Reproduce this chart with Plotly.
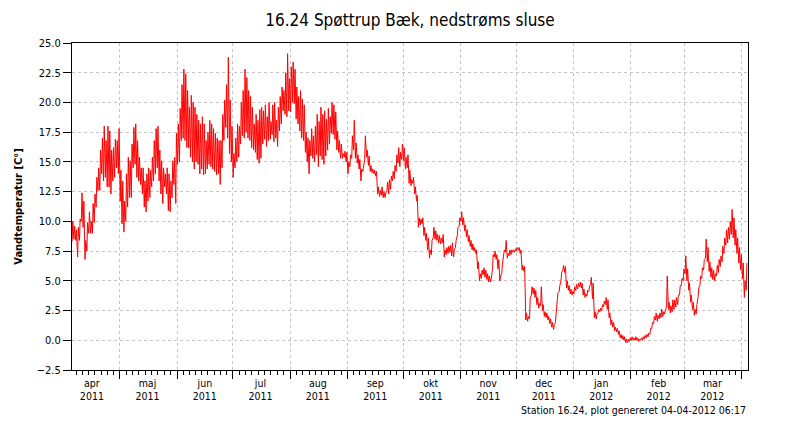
import pandas as pd
import plotly.graph_objects as go

# ---------------- data ----------------
first_day = "2011-04-05"
# daily maximum water temperature, one value per day from 2011-04-05
daily_max = [
    10.0, 9.6, 9.3, 9.5, 10.2, 12.4, 11.7, 8.4, 9.9, 10.8,
    10.0, 11.5, 12.3, 13.7, 14.5, 16.0, 17.0, 18.0, 16.8, 18.0,
    17.6, 16.0, 16.2, 16.9, 16.8, 17.8, 14.3, 13.4, 11.7, 14.0,
    15.4, 15.1, 16.5, 17.9, 18.2, 16.8, 15.4, 14.5, 14.5, 13.4,
    14.0, 14.5, 14.3, 15.4, 16.8, 17.8, 18.0, 16.0, 15.1, 14.5,
    14.0, 14.5, 14.0, 13.4, 15.1, 15.4, 17.4, 18.2, 19.5, 21.5,
    22.8, 22.4, 21.0, 19.6, 20.6, 20.0, 19.6, 19.0, 18.5, 18.2,
    18.8, 18.2, 16.8, 17.5, 18.5, 18.2, 17.8, 17.4, 17.0, 16.8,
    16.8, 19.0, 20.2, 21.5, 23.8, 20.2, 18.0, 15.7, 17.0, 18.2,
    18.0, 20.0, 21.0, 22.8, 22.1, 21.0, 20.5, 19.6, 18.2, 19.0,
    18.5, 19.4, 19.6, 19.3, 19.8, 18.8, 20.0, 18.4, 19.8, 20.0,
    18.5, 19.6, 20.5, 21.3, 21.0, 22.5, 24.1, 22.0, 23.0, 23.4,
    22.8, 21.3, 20.5, 21.0, 20.3, 19.8, 17.5, 17.0, 16.8, 17.8,
    17.2, 18.0, 19.0, 18.4, 19.6, 19.0, 19.3, 18.6, 19.5, 18.8,
    20.0, 19.8, 19.2, 17.6, 16.8, 16.5, 15.7, 15.9, 15.8, 15.0,
    15.6, 17.2, 18.5, 16.6, 15.6, 15.2, 14.4, 14.8, 17.2, 16.0,
    15.5, 14.7, 14.4, 14.3, 14.2, 12.9, 12.6, 12.9, 12.5, 12.4,
    13.3, 13.5, 13.8, 14.2, 14.7, 15.6, 16.2, 15.8, 16.5, 16.2,
    15.4, 15.6, 14.3, 13.5, 13.7, 12.9, 12.2, 10.3, 10.2, 10.3,
    9.5, 9.0, 8.6, 7.6, 8.4, 9.5, 9.2, 8.9, 8.8, 8.6,
    8.9, 7.6, 7.8, 7.9, 8.0, 8.2, 7.6, 8.4, 9.5, 10.3,
    10.8, 10.3, 9.7, 9.3, 8.8, 8.4, 8.1, 7.8, 7.6, 6.6,
    5.6, 5.9, 6.1, 5.9, 5.6, 5.4, 5.2, 7.2, 7.5, 7.2,
    6.8, 5.4, 6.4, 7.6, 8.4, 7.3, 7.6, 7.6, 7.6, 7.7,
    7.8, 7.8, 7.6, 6.3, 6.2, 2.3, 2.0, 3.5, 4.5, 4.4,
    4.2, 3.6, 3.1, 4.5, 3.0, 2.4, 2.3, 2.0, 1.8, 1.5,
    1.3, 2.6, 4.0, 4.6, 5.7, 6.3, 6.2, 5.0, 4.6, 4.3,
    4.1, 4.5, 4.7, 4.8, 4.9, 4.8, 4.3, 3.9, 4.2, 4.5,
    5.3, 4.8, 2.4, 2.2, 2.6, 2.7, 3.0, 3.3, 3.6, 3.4,
    2.3, 1.7, 1.5, 1.1, 1.0, 0.8, 0.5, 0.4, 0.3, 0.1,
    0.1, 0.2, 0.3, 0.2, 0.3, 0.2, 0.1, 0.2, 0.3, 0.4,
    0.5, 0.6, 1.0, 1.5, 2.0, 2.3, 2.1, 2.3, 2.6, 2.4,
    2.6, 5.4, 3.2, 2.9, 3.4, 3.4, 3.6, 3.8, 4.6, 5.2,
    6.0, 7.1, 6.0, 4.8, 3.8, 3.2, 2.6, 3.0, 4.4, 5.4,
    6.1, 6.8, 8.5, 7.8, 6.6, 6.1, 5.9, 5.6, 6.3, 6.8,
    7.1, 7.9, 8.6, 9.3, 9.5, 10.0, 11.0, 10.3, 9.3, 8.6,
    7.8, 7.2, 6.5, 5.0, 6.5,
]
# daily minimum water temperature, one value per day from 2011-04-05
daily_min = [
    8.3, 8.5, 8.4, 7.0, 8.4, 10.0, 9.5, 6.8, 7.5, 9.0,
    9.0, 9.0, 9.9, 11.2, 12.6, 12.6, 14.0, 13.4, 13.7, 12.9,
    12.9, 12.3, 13.4, 13.7, 14.5, 14.0, 11.7, 9.8, 9.1, 10.0,
    11.2, 12.0, 12.0, 14.5, 14.8, 13.7, 13.4, 13.1, 12.3, 11.2,
    10.8, 11.7, 12.0, 12.9, 13.4, 14.0, 14.5, 13.4, 12.3, 11.5,
    12.9, 12.3, 10.9, 10.8, 12.0, 13.1, 11.5, 14.8, 15.0, 16.8,
    17.0, 16.8, 16.2, 16.2, 15.4, 15.0, 14.4, 15.0, 14.8, 14.0,
    14.4, 13.9, 14.0, 14.4, 14.8, 14.6, 14.4, 14.2, 13.9, 14.0,
    13.1, 14.5, 16.8, 17.9, 17.0, 15.7, 15.0, 13.7, 14.5, 15.0,
    15.4, 16.5, 17.2, 17.0, 17.5, 17.0, 16.8, 16.2, 16.0, 15.8,
    15.2, 14.9, 15.3, 16.5, 16.9, 16.3, 16.8, 16.9, 17.3, 16.7,
    17.0, 16.3, 17.6, 18.2, 19.3, 19.0, 18.8, 19.3, 19.2, 20.0,
    19.9, 18.6, 18.2, 17.6, 17.0, 16.8, 15.8, 15.0, 14.0, 15.5,
    15.3, 15.0, 15.6, 14.6, 15.5, 15.2, 14.8, 15.5, 16.0, 16.5,
    17.4, 17.3, 16.9, 16.0, 15.8, 15.3, 15.3, 15.4, 15.0, 14.0,
    14.6, 15.3, 16.0, 15.3, 14.9, 14.4, 13.4, 14.2, 15.2, 15.4,
    14.7, 14.2, 14.1, 14.0, 13.8, 12.3, 12.1, 12.2, 12.0, 12.0,
    12.5, 12.3, 12.7, 13.4, 13.6, 14.2, 14.9, 14.6, 15.2, 15.1,
    14.4, 14.5, 13.2, 13.0, 13.2, 12.3, 11.7, 9.5, 9.7, 9.8,
    8.8, 8.4, 7.6, 6.9, 7.2, 8.6, 8.5, 8.4, 8.2, 8.1,
    8.2, 7.0, 7.2, 7.3, 7.4, 7.1, 7.0, 7.8, 8.8, 9.6,
    10.0, 9.7, 9.2, 8.7, 8.3, 7.9, 7.6, 7.5, 7.3, 6.0,
    5.0, 5.2, 5.5, 5.3, 5.1, 4.9, 4.9, 6.0, 7.0, 6.8,
    6.0, 5.0, 5.6, 7.0, 7.4, 6.9, 7.1, 7.2, 7.4, 7.4,
    7.5, 7.6, 7.3, 5.9, 5.8, 1.7, 1.6, 1.8, 3.8, 3.9,
    3.6, 3.0, 2.7, 2.9, 2.5, 2.0, 1.9, 1.7, 1.4, 1.1,
    0.9, 1.5, 3.4, 4.1, 5.0, 5.9, 5.7, 4.4, 4.2, 3.9,
    3.8, 3.9, 4.2, 4.3, 4.5, 4.4, 3.8, 3.6, 3.7, 4.1,
    4.7, 3.5, 1.9, 1.8, 2.3, 2.4, 2.5, 2.8, 3.0, 2.6,
    1.9, 1.3, 1.1, 0.8, 0.7, 0.5, 0.2, 0.1, 0.0, -0.2,
    -0.2, -0.1, 0.0, 0.0, 0.0, 0.0, -0.1, 0.0, 0.0, 0.1,
    0.2, 0.3, 0.5, 1.0, 1.4, 1.7, 1.6, 1.8, 1.9, 2.0,
    2.2, 2.8, 2.6, 2.3, 2.4, 2.6, 2.8, 3.0, 3.8, 4.6,
    5.0, 5.6, 5.0, 4.2, 3.2, 2.6, 2.1, 2.2, 3.6, 4.6,
    5.2, 5.9, 6.9, 6.6, 5.8, 5.3, 5.1, 5.0, 5.4, 5.7,
    6.2, 6.6, 7.3, 8.0, 8.2, 8.5, 8.9, 8.6, 8.0, 7.3,
    6.5, 5.9, 5.2, 3.6, 4.2,
]
month_labels = ["apr", "maj", "jun", "jul", "aug", "sep",
                "okt", "nov", "dec", "jan", "feb", "mar"]
month_years = ["2011"] * 9 + ["2012"] * 3
title_text = "16.24 Spøttrup Bæk, nedstrøms sluse"
y_title = "Vandtemperatur [C°]"
footer_text = "Station 16.24, plot genereret 04-04-2012 06:17"
x_start, x_end = "2011-04-05 06:17", "2012-04-04 06:17"

# ---------------- build the series (min in the morning, max in the afternoon) --
days = pd.date_range(first_day, periods=len(daily_max), freq="D")
xs, ys = [], []
for d, lo, hi in zip(days, daily_min, daily_max):
    xs += [d + pd.Timedelta(hours=7), d + pd.Timedelta(hours=16)]
    ys += [lo, hi]

# month boundaries, label positions and minor ticks (9 divisions per month)
month_starts = pd.date_range("2011-04-01", "2012-05-01", freq="MS")
label_pos = [m + pd.Timedelta(days=15) for m in month_starts[:12]]
label_txt = [f"{m}<br>{y}" for m, y in zip(month_labels, month_years)]
minor_vals = []
for a, b in zip(month_starts[:-1], month_starts[1:]):
    step = (b - a) / 9
    minor_vals += [a + step * k for k in range(1, 9)]

FONT = "Tahoma, 'DejaVu Sans Condensed', 'Liberation Sans', sans-serif"
GRID = "#c4c4c4"

fig = go.Figure()
fig.add_trace(go.Scatter(x=xs, y=ys, mode="lines",
                         line=dict(color="#ff0000", width=1),
                         hoverinfo="skip", showlegend=False))
# invisible trace to activate the label axis
fig.add_trace(go.Scatter(x=[xs[0]], y=[ys[0]], xaxis="x2", mode="lines",
                         line=dict(width=0), hoverinfo="skip", showlegend=False))

fig.update_layout(
    width=800, height=425,
    margin=dict(l=72, r=52, t=43, b=55),
    paper_bgcolor="white", plot_bgcolor="white",
    font=dict(family=FONT, size=11, color="black"),
    title=dict(text=title_text, x=0.5, xref="paper", xanchor="center",
               y=1 - 20 / 425, yanchor="middle",
               font=dict(family=FONT, size=17, color="black")),
    xaxis=dict(
        type="date", range=[x_start, x_end],
        tickmode="array", tickvals=list(month_starts), showticklabels=False,
        ticks="outside", ticklen=8, tickcolor="black",
        showline=True, linecolor="black", linewidth=1, mirror=True,
        showgrid=True, gridcolor=GRID, griddash="3px,3px", gridwidth=1,
        zeroline=False,
        minor=dict(tickmode="array", tickvals=minor_vals, ticks="outside",
                   ticklen=4, tickcolor="black", showgrid=False),
    ),
    xaxis2=dict(
        type="date", range=[x_start, x_end], overlaying="x", anchor="y",
        side="bottom", tickmode="array", tickvals=label_pos, ticktext=label_txt,
        ticks="", showgrid=False, showline=False, zeroline=False,
        tickfont=dict(family=FONT, size=10.5, color="black"),
        ticklabelstandoff=5,
    ),
    yaxis=dict(
        range=[-2.5, 25], tickmode="linear", tick0=-2.5, dtick=2.5,
        tickformat=".1f", ticks="outside", ticklen=8, tickcolor="black",
        showline=True, linecolor="black", linewidth=1, mirror=True,
        showgrid=True, gridcolor=GRID, griddash="3px,3px", gridwidth=1,
        zeroline=False,
        tickfont=dict(family=FONT, size=11, color="black"),
        title=dict(text="<b>" + y_title + "</b>", standoff=11,
                   font=dict(family=FONT, size=11, color="black")),
    ),
    annotations=[dict(text=footer_text, xref="paper", yref="paper",
                      x=1, y=-(410 - 370) / 327, xanchor="right",
                      yanchor="middle", showarrow=False,
                      font=dict(family=FONT, size=10.5, color="black"))],
)

fig.write_html("out.html")
